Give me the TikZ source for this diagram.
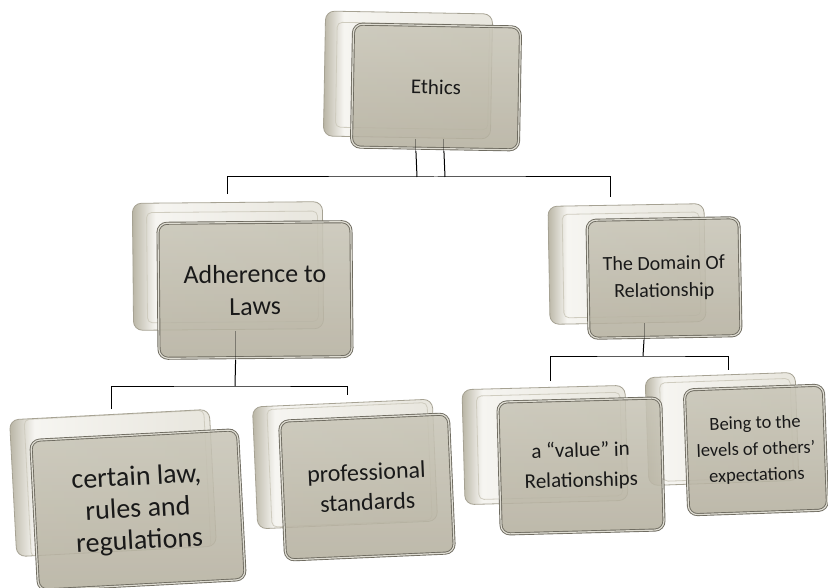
\documentclass[tikz,border=0pt]{standalone}
\usepackage{fontspec}
\setmainfont{Carlito}
\definecolor{bkline}{HTML}{A6A293}
\definecolor{bkdark}{HTML}{B9B5A5}
\definecolor{bklight}{HTML}{F6F5F1}
\definecolor{bkmid}{HTML}{E9E7DF}
\definecolor{bkedge}{HTML}{CFCCBF}
\definecolor{frline}{HTML}{6E6B60}
\definecolor{frtop}{HTML}{C8C5B7}
\definecolor{frbot}{HTML}{B4AF9E}
\definecolor{frrim}{HTML}{DEDCD2}
\pgfdeclarehorizontalshading{backshade}{100bp}{color(0bp)=(bkdark); color(25bp)=(bkdark);
  color(31bp)=(bklight); color(70bp)=(bkmid); color(100bp)=(bkmid)}

\begin{document}
\begin{tikzpicture}[x=1pt,y=-1pt,
  backcard/.style={draw=bkline, line width=0.8pt, shading=backshade,
    rounded corners=9pt, inner sep=0pt,
    path picture={\draw[bkedge, line width=0.8pt, rounded corners=5pt]
      ([xshift=14pt,yshift=-11pt]path picture bounding box.north west) rectangle
      ([xshift=-5pt,yshift=9pt]path picture bounding box.south east);}},
  frontcard/.style={draw=frline, line width=0.9pt, double=frrim, double distance=1.2pt,
    top color=frtop, bottom color=frbot, fill opacity=0.87, text opacity=1,
    rounded corners=9pt, inner sep=0pt, align=center, text=black!90},
  conn/.style={draw=black, line width=1pt}]
\fill[white] (0,0) rectangle (828,588);
\useasboundingbox (0,0) rectangle (828,588);

%bus lines
\coordinate (ebus) at (436,177);
\coordinate (abus) at (235,386);
\coordinate (dbus) at (643,356);

%top
\node[backcard, minimum width=167pt, minimum height=125pt, rotate=-1] (ethicsB) at (408,75) {};
%left
\node[backcard, minimum width=190pt, minimum height=127pt, rotate=0.5] (adhB) at (228,266) {};
%right
\node[backcard, minimum width=156pt, minimum height=118pt, rotate=1] (domB) at (627,264) {};
%bottom row
\node[backcard, minimum width=200pt, minimum height=137pt, rotate=3] (lawB) at (113,483) {};
\node[backcard, minimum width=180pt, minimum height=122pt, rotate=2.5] (profB) at (345,464) {};
\node[backcard, minimum width=163pt, minimum height=115pt, rotate=1.5] (valB) at (545,445) {};
\node[backcard, minimum width=150pt, minimum height=108pt, rotate=2] (beingB) at (722,429) {};

\draw[conn] ([yshift=8pt]adhB.north) |- (ebus) -| ([xshift=-15pt,yshift=8pt]domB.north);
\draw[conn] ([xshift=2pt,yshift=5pt]lawB.north) |- (abus) -| ([xshift=5pt,yshift=8pt]profB.north);
\draw[conn] ([xshift=7pt,yshift=6pt]valB.north) |- (dbus) -| ([xshift=8pt,yshift=5pt]beingB.north);

\node[frontcard, minimum width=167pt, minimum height=123pt, rotate=-1,
  font=\fontsize{21}{26}\selectfont] (ethics) at (436,87) {Ethics};
\node[frontcard, minimum width=193pt, minimum height=135pt, rotate=0.5,
  font=\fontsize{26}{32}\selectfont] (adh) at (255,290) {Adherence to\\Laws};
\node[frontcard, minimum width=152pt, minimum height=118pt, rotate=1,
  font=\fontsize{20}{27}\selectfont] (dom) at (664,278) {The Domain Of\\Relationship};
\node[frontcard, minimum width=207pt, minimum height=150pt, rotate=3,
  font=\fontsize{28}{32}\selectfont] (law) at (138,510) {certain law,\\rules and\\regulations};
\node[frontcard, minimum width=169pt, minimum height=139pt, rotate=2.5,
  font=\fontsize{24}{30}\selectfont] (prof) at (367,487) {professional\\standards};
\node[frontcard, minimum width=163pt, minimum height=132pt, rotate=1.5,
  font=\fontsize{21}{30}\selectfont] (val) at (581,466) {a “value” in\\Relationships};
\node[frontcard, minimum width=139pt, minimum height=125pt, rotate=2,
  font=\fontsize{18.5}{26}\selectfont] (being) at (756,450) {Being to the\\levels of others’\\expectations};

%stems under the parents
\draw[conn, draw opacity=0.35] ([xshift=-19pt,yshift=10pt]ethics.south) -- ([xshift=-19pt,yshift=-2pt]ethics.south);
\draw[conn, draw opacity=0.35] ([xshift=9pt,yshift=10pt]ethics.south) -- ([xshift=9pt,yshift=-2pt]ethics.south);
\draw[conn] ([xshift=-19pt,yshift=-2pt]ethics.south) -- ([xshift=-19pt]ebus);
\draw[conn] ([xshift=9pt,yshift=-2pt]ethics.south) -- ([xshift=9pt]ebus);
\draw[conn, draw opacity=0.35] ([xshift=-20pt,yshift=27pt]adh.south) -- ([xshift=-20pt,yshift=-2pt]adh.south);
\draw[conn] ([xshift=-20pt,yshift=-2pt]adh.south) -- (abus);
\draw[conn, draw opacity=0.35] ([xshift=-21pt,yshift=14pt]dom.south) -- ([xshift=-21pt,yshift=-2pt]dom.south);
\draw[conn] ([xshift=-21pt,yshift=-2pt]dom.south) -- (dbus);
\end{tikzpicture}
\end{document}
